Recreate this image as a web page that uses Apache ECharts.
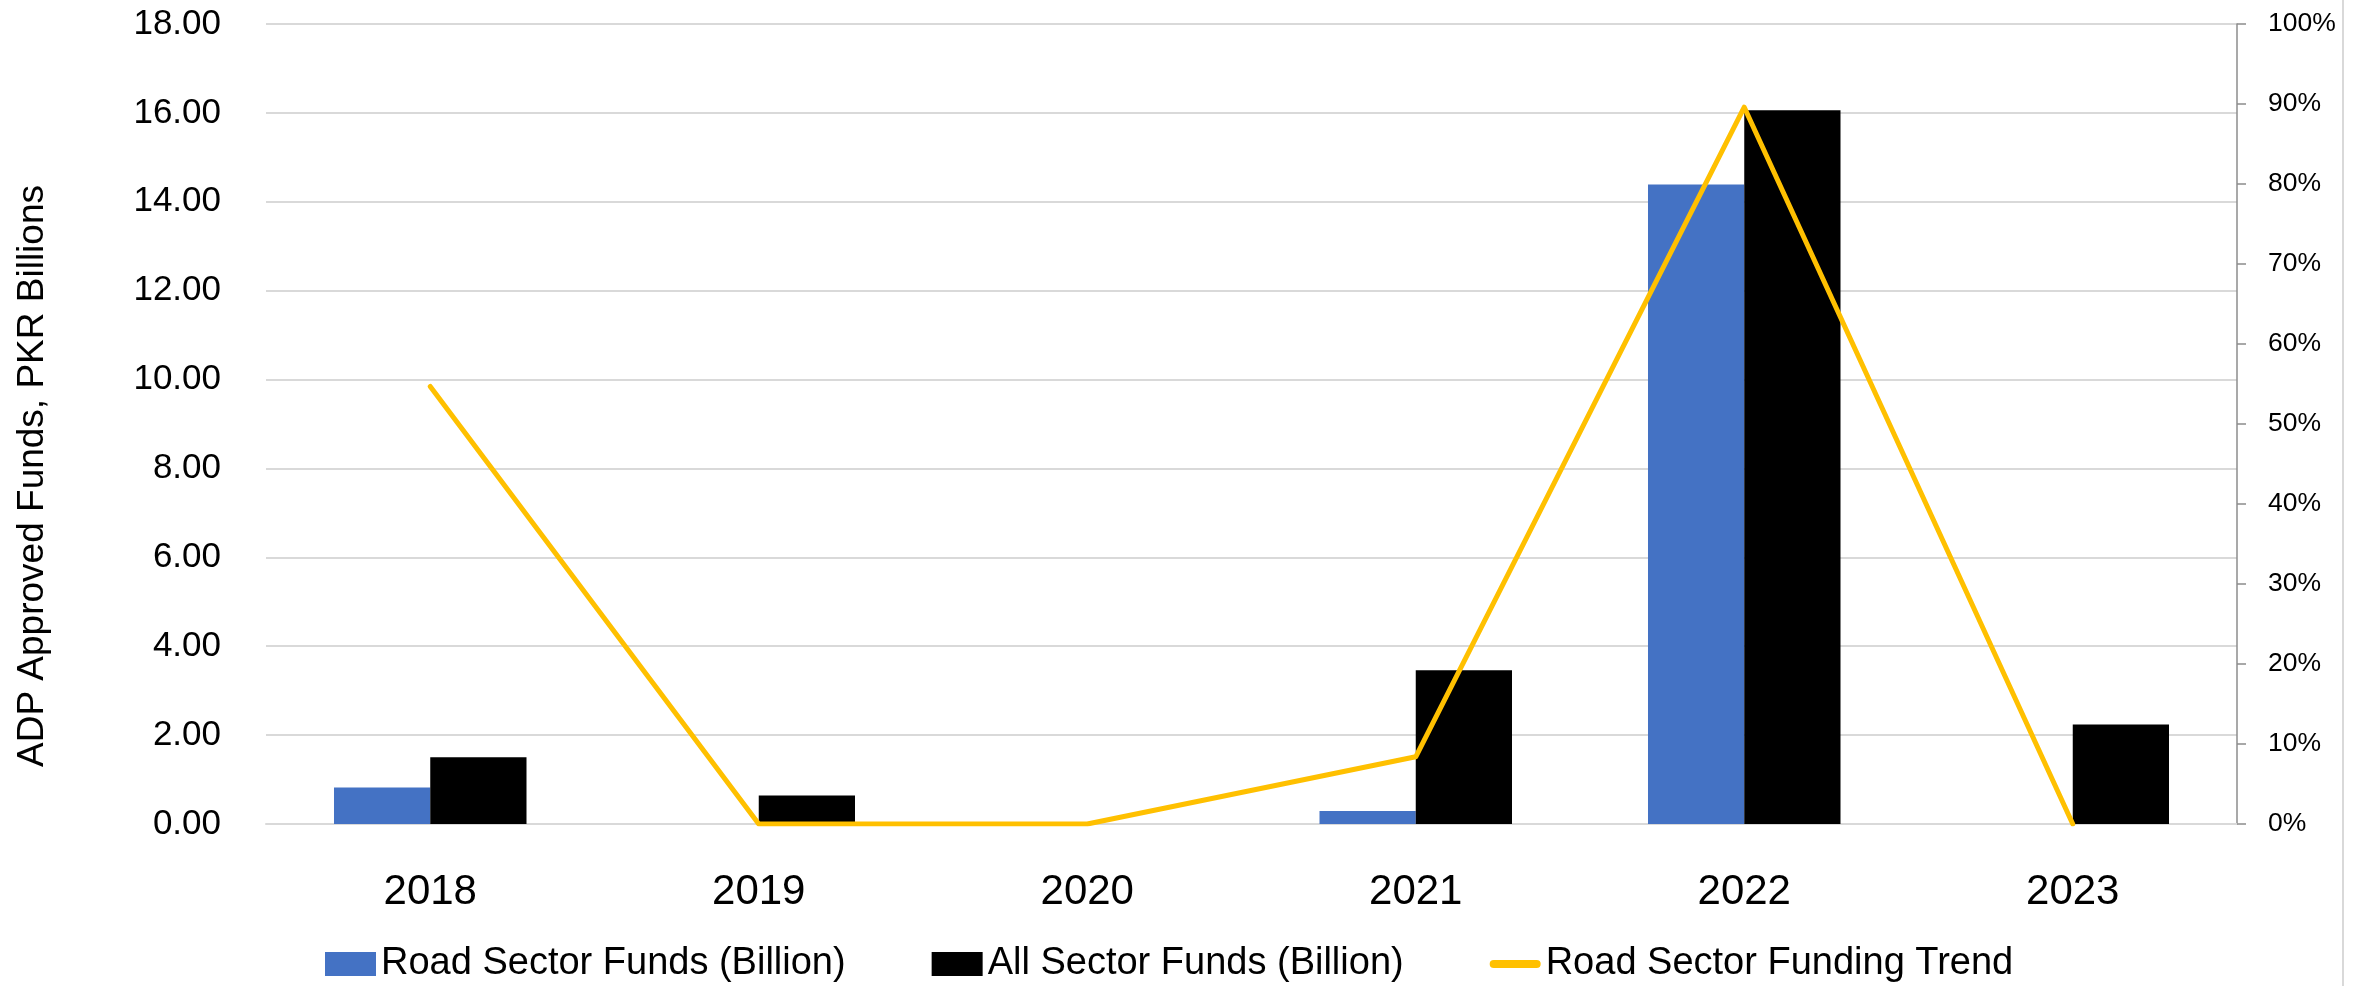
<!DOCTYPE html>
<html>
  <head>
    <meta charset="UTF-8" />
    <title>Road Sector ADP Funds</title>
    <style>
      html, body { margin: 0; padding: 0; background: #ffffff; }
      #chart { width: 2358px; height: 986px; }
    </style>
    <script type="text/javascript" src="https://cdn.jsdelivr.net/npm/echarts@6/dist/echarts.min.js"></script>
  </head>
  <body>
    <div id="chart"></div>
    <script>
      var years = ["2018", "2019", "2020", "2021", "2022", "2023"];
      var roadFunds = [0.82, 0, 0, 0.29, 14.39, 0];
      var allFunds = [1.5, 0.64, 0, 3.46, 16.06, 2.24];
      var roadTrend = [54.7, 0, 0, 8.4, 89.6, 0]; // percent

      var font = "Liberation Sans, Arial, sans-serif";
      var myChart = echarts.init(document.getElementById("chart"));

      var option = {
        animation: false,
        grid: { left: 266, right: 121, top: 24, bottom: 162, containLabel: false, outerBoundsMode: "none" },
        legend: {
          top: 940,
          left: 320,
          itemGap: 86,
          itemWidth: 51,
          itemHeight: 24,
          textStyle: { fontFamily: font, fontSize: 38, color: "#000" },
          data: [
            { name: "Road Sector Funds (Billion)", icon: "rect" },
            { name: "All Sector Funds (Billion)", icon: "rect" },
            {
              name: "Road Sector Funding Trend",
              icon: "path://M4,0 L46,0 A4,4 0 0 1 46,8 L4,8 A4,4 0 0 1 4,0 Z"
            }
          ]
        },
        xAxis: {
          type: "category",
          data: years,
          axisLine: { lineStyle: { color: "#d9d9d9", width: 2 } },
          axisTick: { show: false },
          axisLabel: { fontFamily: font, fontSize: 42, color: "#000", margin: 47 }
        },
        yAxis: [
          {
            type: "value",
            min: 0,
            max: 18,
            interval: 2,
            name: "ADP Approved Funds, PKR Billions",
            nameLocation: "middle",
            nameGap: 215,
            nameTextStyle: { fontFamily: font, fontSize: 37, color: "#000", padding: [0, 104, 0, 0] },
            axisLine: { show: false },
            axisTick: { show: false },
            axisLabel: {
              fontFamily: font, fontSize: 35, color: "#000", margin: 45,
              formatter: function (v) { return v.toFixed(2); }
            },
            splitLine: { lineStyle: { color: "#d9d9d9", width: 2 } }
          },
          {
            type: "value",
            min: 0,
            max: 100,
            interval: 10,
            position: "right",
            axisLine: { show: true, lineStyle: { color: "#8c8c8c", width: 1.5 } },
            axisTick: { show: true, length: 9, lineStyle: { color: "#8c8c8c", width: 1.5 } },
            axisLabel: { fontFamily: font, fontSize: 26.5, color: "#000", margin: 31, formatter: "{value}%" },
            splitLine: { show: false }
          }
        ],
        series: [
          {
            name: "Road Sector Funds (Billion)",
            type: "bar",
            data: roadFunds,
            barWidth: "29.3%",
            barGap: "0%",
            itemStyle: { color: "#4472c4" }
          },
          {
            name: "All Sector Funds (Billion)",
            type: "bar",
            data: allFunds,
            barWidth: "29.3%",
            barGap: "0%",
            itemStyle: { color: "#000000" }
          },
          {
            name: "Road Sector Funding Trend",
            type: "line",
            yAxisIndex: 1,
            data: roadTrend,
            symbol: "none",
            z: 5,
            lineStyle: { color: "#ffc000", width: 5, join: "round", cap: "round" },
            itemStyle: { color: "#ffc000" }
          }
        ],
        graphic: [
          {
            type: "line",
            shape: { x1: 2343, y1: 0, x2: 2343, y2: 986 },
            style: { stroke: "#d9d9d9", lineWidth: 2 }
          }
        ]
      };

      myChart.setOption(option);
    </script>
  </body>
</html>
